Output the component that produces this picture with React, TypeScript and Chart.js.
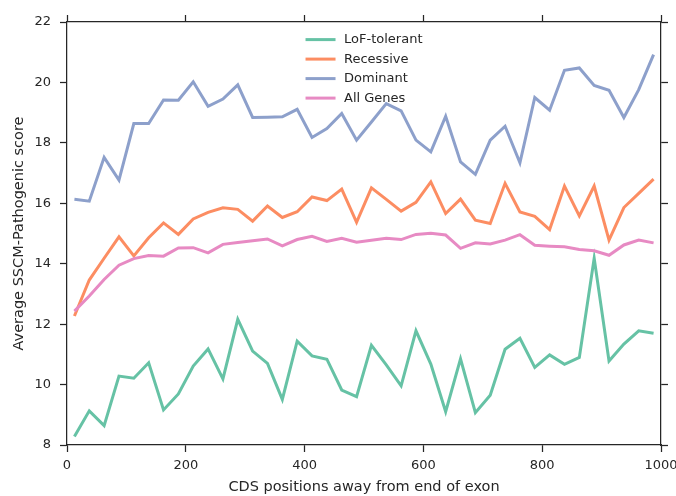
import React, { useEffect, useRef } from "react";
import { Chart, registerables } from "chart.js";

Chart.register(...registerables);

// CDS position bins (centre of each 25-nt window)
const positions = [
  12.5, 37.5, 62.5, 87.5, 112.5, 137.5, 162.5, 187.5, 212.5, 237.5,
  262.5, 287.5, 312.5, 337.5, 362.5, 387.5, 412.5, 437.5, 462.5, 487.5,
  512.5, 537.5, 562.5, 587.5, 612.5, 637.5, 662.5, 687.5, 712.5, 737.5,
  762.5, 787.5, 812.5, 837.5, 862.5, 887.5, 912.5, 937.5, 962.5, 987.5,
];

const lofTolerant = [
  8.28, 9.13, 8.64, 10.28, 10.21, 10.72, 9.16, 9.69, 10.61, 11.18,
  10.19, 12.16, 11.11, 10.7, 9.51, 11.44, 10.95, 10.84, 9.82, 9.6,
  11.3, 10.65, 9.96, 11.78, 10.68, 9.1, 10.85, 9.07, 9.65, 11.17,
  11.53, 10.57, 10.98, 10.67, 10.9, 14.18, 10.78, 11.34, 11.78, 11.7,
];

const recessive = [
  12.27, 13.46, 14.18, 14.89, 14.26, 14.86, 15.35, 14.97, 15.48, 15.7,
  15.85, 15.8, 15.41, 15.91, 15.53, 15.72, 16.21, 16.09, 16.47, 15.37,
  16.51, 16.13, 15.74, 16.03, 16.71, 15.66, 16.14, 15.44, 15.33, 16.66,
  15.71, 15.57, 15.13, 16.57, 15.58, 16.57, 14.78, 15.86, 16.33, 16.8,
];

const dominant = [
  16.13, 16.07, 17.52, 16.77, 18.64, 18.64, 19.42, 19.41, 20.02, 19.21,
  19.45, 19.92, 18.84, 18.85, 18.86, 19.11, 18.18, 18.47, 18.97, 18.09,
  18.69, 19.3, 19.06, 18.09, 17.7, 18.88, 17.37, 16.96, 18.09, 18.55,
  17.34, 19.5, 19.08, 20.4, 20.48, 19.9, 19.74, 18.84, 19.76, 20.92,
];

const allGenes = [
  12.43, 12.93, 13.48, 13.95, 14.17, 14.27, 14.25, 14.52, 14.53, 14.36,
  14.64, 14.7, 14.76, 14.82, 14.59, 14.8, 14.91, 14.74, 14.84, 14.71,
  14.78, 14.84, 14.8, 14.97, 15.01, 14.95, 14.51, 14.69, 14.65, 14.78,
  14.96, 14.61, 14.58, 14.56, 14.47, 14.43, 14.28, 14.62, 14.78, 14.69,
];

const seriesNames = ["LoF-tolerant", "Recessive", "Dominant", "All Genes"];
const seriesColors = ["#66c2a5", "#fc8d62", "#8da0cb", "#e78ac3"];
const seriesValues = [lofTolerant, recessive, dominant, allGenes];

const xTicks = [0, 200, 400, 600, 800, 1000];
const yTicks = [8, 10, 12, 14, 16, 18, 20, 22];

const FONT = "'DejaVu Sans', sans-serif";
const INK = "#262626";

// Legend drawn inside the plot, anchored at the upper centre
const innerLegend = {
  id: "innerLegend",
  afterDraw(chart: any) {
    const { ctx, chartArea } = chart;
    const lineLen = 30;
    const gap = 8.5;
    const rowH = 19.5;
    ctx.save();
    ctx.font = `13px ${FONT}`;
    const labels = chart.data.datasets.map((d: any) => d.label);
    const textW = Math.max(...labels.map((l: string) => ctx.measureText(l).width));
    const totalW = lineLen + gap + textW;
    const left = (chartArea.left + chartArea.right) / 2 - totalW / 2;
    const top = chartArea.top + 17.6;
    chart.data.datasets.forEach((d: any, i: number) => {
      const y = top + i * rowH;
      ctx.strokeStyle = d.borderColor;
      ctx.lineWidth = 3;
      ctx.lineCap = "butt";
      ctx.beginPath();
      ctx.moveTo(left, y);
      ctx.lineTo(left + lineLen, y);
      ctx.stroke();
      ctx.fillStyle = INK;
      ctx.textAlign = "left";
      ctx.textBaseline = "middle";
      ctx.fillText(d.label, left + lineLen + gap, y + 0.5);
    });
    ctx.restore();
  },
};

const axisBase = {
  type: "linear" as const,
  border: { display: true, color: INK, width: 1.25 },
  grid: {
    drawOnChartArea: false,
    drawTicks: true,
    tickLength: 7,
    tickWidth: 1.25,
    tickColor: INK,
  },
};

const plain = (v: number | string) => String(v);

export default function App() {
  const canvasRef = useRef<HTMLCanvasElement | null>(null);

  useEffect(() => {
    if (!canvasRef.current) return;
    const chart = new Chart(canvasRef.current, {
      type: "line",
      data: {
        datasets: seriesNames.map((name, i) => ({
          label: name,
          data: positions.map((x, j) => ({ x, y: seriesValues[i][j] })),
          borderColor: seriesColors[i],
          backgroundColor: seriesColors[i],
          borderWidth: 3,
          pointRadius: 0,
          tension: 0,
          fill: false,
          order: seriesNames.length - i,
          xAxisID: "x",
          yAxisID: "y",
        })),
      },
      options: {
        responsive: false,
        animation: false,
        layout: { padding: 0 },
        plugins: {
          legend: { display: false },
          tooltip: { enabled: false },
        },
        scales: {
          x: {
            ...axisBase,
            position: "bottom",
            min: 0,
            max: 1000,
            afterBuildTicks: (s: any) => {
              s.ticks = xTicks.map((v) => ({ value: v }));
            },
            ticks: {
              color: INK,
              font: { family: FONT, size: 13 },
              padding: 6,
              maxRotation: 0,
              autoSkip: false,
              callback: plain,
            },
            title: {
              display: true,
              text: "CDS positions away from end of exon",
              color: INK,
              font: { family: FONT, size: 14.5 },
              padding: { top: 0, bottom: 0 },
            },
            afterFit: (s: any) => {
              s.height = 51;
              s.paddingLeft = 0;
              s.paddingRight = 0;
            },
          },
          xTop: {
            ...axisBase,
            position: "top",
            min: 0,
            max: 1000,
            afterBuildTicks: (s: any) => {
              s.ticks = xTicks.map((v) => ({ value: v }));
            },
            ticks: { display: false },
            afterFit: (s: any) => {
              s.height = 22;
              s.paddingLeft = 0;
              s.paddingRight = 0;
            },
          },
          y: {
            ...axisBase,
            position: "left",
            min: 8,
            max: 22,
            afterBuildTicks: (s: any) => {
              s.ticks = yTicks.map((v) => ({ value: v }));
            },
            ticks: {
              color: INK,
              font: { family: FONT, size: 13 },
              padding: 9,
              callback: plain,
            },
            title: {
              display: true,
              text: "Average SSCM-Pathogenic score",
              color: INK,
              font: { family: FONT, size: 14.5 },
              padding: { top: 10.8, bottom: 0 },
            },
            afterFit: (s: any) => {
              s.width = 67;
              s.paddingTop = 0;
              s.paddingBottom = 0;
            },
          },
          yRight: {
            ...axisBase,
            position: "right",
            min: 8,
            max: 22,
            afterBuildTicks: (s: any) => {
              s.ticks = yTicks.map((v) => ({ value: v }));
            },
            ticks: { display: false },
            afterFit: (s: any) => {
              s.width = 15;
              s.paddingTop = 0;
              s.paddingBottom = 0;
            },
          },
        },
      } as any,
      plugins: [innerLegend],
    });
    return () => chart.destroy();
  }, []);

  return (
    <div style={{ position: "absolute", left: 0, top: 0, width: 676, height: 496, background: "#ffffff" }}>
      <canvas ref={canvasRef} width={676} height={496} style={{ display: "block" }} />
    </div>
  );
}
